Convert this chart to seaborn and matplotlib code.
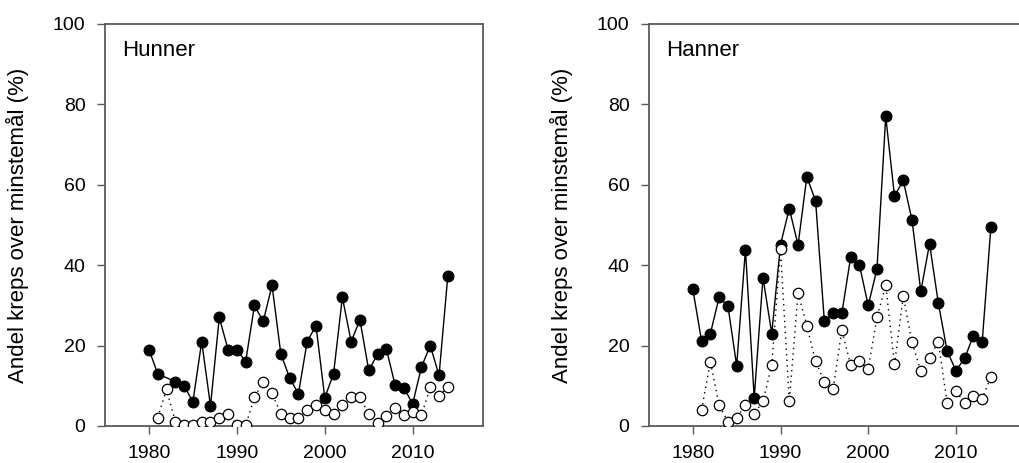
import numpy as np
import pandas as pd
import matplotlib
matplotlib.use("Agg")
import matplotlib.pyplot as plt
import seaborn as sns

nan = np.nan
years = list(range(1980, 2015))

hunner_filled = [19, 13, nan, 11, 10, 6, 21, 5, 27, 19, 19, 16, 30, 26, 35, 18, 12, 8, 21, 25,
                 7, 13, 32, 21, 26.4, 13.9, 17.8, 19.2, 10.2, 9.5, 5.5, 14.7, 20, 12.6, 37.4]
hunner_open = [nan, 2.1, 9.1, 1.1, 0.2, 0.2, 1.1, 1.1, 2.1, 3.1, 0.2, 0.2, 7.1, 11.0, 8.1, 3.1, 2.1, 2.1,
               4.1, 5.2, 4.1, 3.1, 5.2, 7.1, 7.1, 3.1, 0.8, 2.5, 4.6, 2.7, 3.4, 2.7, 9.6, 7.4, 9.7]
hanner_filled = [34, 21.1, 23, 32, 29.9, 15, 43.9, 7, 36.9, 23, 45.1, 54.1, 45, 62, 56, 26.1, 28.1, 28.1,
                 42, 40.1, 30, 39, 77, 57.2, 61.1, 51.2, 33.5, 45.3, 30.6, 18.7, 13.8, 16.8, 22.5, 20.8, 49.6]
hanner_open = [nan, 4, 16, 5.1, 1.1, 2.1, 5.1, 3.1, 6.1, 15.1, 44, 6.1, 33, 25, 16.1, 11, 9.1, 24,
               15.1, 16.1, 14.1, 27, 35, 15.3, 32.3, 20.8, 13.7, 17, 20.9, 5.8, 8.6, 5.8, 7.5, 6.8, 12.2]

panel_titles = ["Hunner", "Hanner"]
ylabel = "Andel kreps over minstemål (%)"
xticks = [1980, 1990, 2000, 2010]
yticks = [0, 20, 40, 60, 80, 100]

sns.set_theme(style="white")
plt.rcParams['font.family'] = ['Liberation Sans', 'DejaVu Sans']

fig = plt.figure(figsize=(10.19, 4.63), dpi=100)
W, H = 1019, 463
ax1 = fig.add_axes([105 / W, 1 - 426 / H, 378 / W, 402 / H])
ax2 = fig.add_axes([649 / W, 1 - 426 / H, 377 / W, 402 / H])

spine_col = "#5a5a5a"
for ax, title, filled, opn in [(ax1, panel_titles[0], hunner_filled, hunner_open),
                               (ax2, panel_titles[1], hanner_filled, hanner_open)]:
    df = pd.DataFrame({"year": years, "filled": filled, "open": opn})
    sns.lineplot(data=df.dropna(subset=["filled"]), x="year", y="filled", ax=ax,
                 color="black", linewidth=1.0, marker="o", markersize=7.8,
                 markerfacecolor="black", markeredgecolor="black", markeredgewidth=0.8,
                 zorder=3)
    sns.lineplot(data=df.dropna(subset=["open"]), x="year", y="open", ax=ax,
                 color="black", linewidth=1.0, linestyle=(0, (1, 3)), marker="o", markersize=7.5,
                 markerfacecolor="white", markeredgecolor="black", markeredgewidth=0.9,
                 zorder=4)
    ax.set_xlim(1975, 2018)
    ax.set_ylim(0, 100)
    ax.set_xticks(xticks)
    ax.set_yticks(yticks)
    ax.set_xlabel("")
    ax.set_ylabel(ylabel, fontsize=16, labelpad=17, color="black")
    ax.tick_params(axis="both", which="major", labelsize=14, length=6, width=1,
                   color=spine_col, labelcolor="black", direction="out", left=True, bottom=True)
    ax.tick_params(axis="y", pad=8)
    ax.tick_params(axis="x", pad=8)
    for s in ax.spines.values():
        s.set_visible(True)
        s.set_color(spine_col)
        s.set_linewidth(1.3)
    ax.text(0.045, 0.92, title, transform=ax.transAxes, fontsize=16,
            ha="left", va="baseline", color="black")
    ax.grid(False)

fig.savefig("out.png", dpi=100)
